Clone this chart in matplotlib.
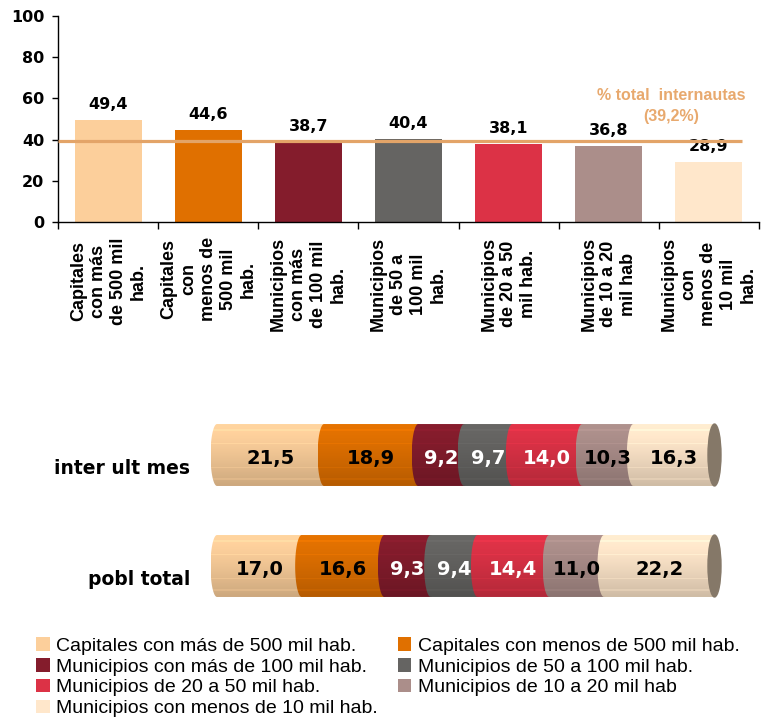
import numpy as np
import matplotlib.pyplot as plt
from matplotlib.patches import Polygon, Ellipse, Patch
from matplotlib.colors import to_rgb

# data
bar_labels = ["Capitales\ncon más\nde 500 mil\nhab.",
              "Capitales\ncon\nmenos de\n500 mil\nhab.",
              "Municipios\ncon más\nde 100 mil\nhab.",
              "Municipios\nde 50 a\n100 mil\nhab.",
              "Municipios\nde 20 a 50\nmil hab.",
              "Municipios\nde 10 a 20\nmil hab",
              "Municipios\ncon\nmenos de\n10 mil\nhab."]
pct_internautas = [49.4, 44.6, 38.7, 40.4, 38.1, 36.8, 28.9]
total_internautas = 39.2

row_labels = ["inter ult mes", "pobl total"]
share_inter = [21.5, 18.9, 9.2, 9.7, 14.0, 10.3, 16.3]
share_pobl = [17.0, 16.6, 9.3, 9.4, 14.4, 11.0, 22.2]

legend_labels = ["Capitales con más de 500 mil hab.",
                 "Capitales con menos de 500 mil hab.",
                 "Municipios con más de 100 mil hab.",
                 "Municipios de 50 a 100 mil hab.",
                 "Municipios de 20 a 50 mil hab.",
                 "Municipios de 10 a 20 mil hab",
                 "Municipios con menos de 10 mil hab."]

colors = ['#FCCF9B', '#E07000', '#841C2C', '#656462', '#DC3246', '#AB8E8A', '#FFE7CB']
txt_colors = ['black', 'black', 'white', 'white', 'white', 'black', 'black']
line_color = '#E3A468'


def fmt(v):
    return f"{v:.1f}".replace('.', ',')


fig = plt.figure(figsize=(7.71, 7.19), dpi=100)
W, H = 771, 719

# top bar chart
ax = fig.add_axes([58 / W, 1 - 222 / H, 701 / W, 206 / H])
x = np.arange(len(pct_internautas))
bw = 0.67
ax.bar(x, pct_internautas, width=bw, color=colors, zorder=2)
for xi, v in zip(x, pct_internautas):
    ax.annotate(fmt(v), (xi, v), xytext=(0, 8), textcoords='offset pixels',
                ha='center', va='bottom', fontsize=11.5, fontweight='bold',
                family='DejaVu Sans')
ax.hlines(total_internautas, -0.5, x[-1] + bw / 2, color=line_color, lw=2.3, zorder=3)
ax.text(5.62, 56.5, f"% total  internautas\n({fmt(total_internautas)}%)",
        ha='center', va='center', color='#E8A96E', fontsize=11.5,
        fontweight='bold', family='Liberation Sans', linespacing=1.5)

ax.set_xlim(-0.5, len(x) - 0.5)
ax.set_ylim(0, 100)
ax.set_yticks(np.arange(0, 101, 20))
ax.tick_params(axis='y', length=4, width=1, pad=6, labelsize=11.5)
for t in ax.get_yticklabels():
    t.set_fontweight('bold')
    t.set_family('DejaVu Sans')
ax.set_xticks(np.arange(-0.5, len(x), 1.0))
ax.set_xticklabels([])
ax.tick_params(axis='x', which='major', length=5, width=1)
ax.set_xticks(x, minor=True)
ax.set_xticklabels(bar_labels, minor=True, rotation=90, fontsize=13,
                   fontweight='bold', family='Liberation Sans',
                   ha='center', va='top', multialignment='center', linespacing=1.22)
ax.tick_params(axis='x', which='minor', length=0, pad=11)
for s in ['top', 'right']:
    ax.spines[s].set_visible(False)
for s in ['left', 'bottom']:
    ax.spines[s].set_color('black')
    ax.spines[s].set_linewidth(1)

# cylinders
px_unit = 4.98
ax2 = fig.add_axes([205 / W, 1 - 610 / H, 525 / W, 200 / H])
RX = 6.5 / px_unit
RY = 0.279
th = np.linspace(-np.pi / 2, np.pi / 2, 50)

nrow = 62
t = np.linspace(0, 1, nrow)
shade = 1.03 - 0.22 * t ** 1.3
for a, b in [(0.08, 0.11), (0.30, 0.32), (0.70, 0.72), (0.88, 0.91)]:
    shade[(t > a) & (t < b)] += 0.05


def cylinder(yc, shares, label):
    edges = np.concatenate([[0], np.cumsum(shares)])
    for i, v in enumerate(shares):
        x0, x1 = edges[i], edges[i + 1]
        left = np.column_stack([x0 - RX * np.cos(th), yc + RY * np.sin(th)])
        right = np.column_stack([x1 + RX * np.cos(th[::-1]), yc + RY * np.sin(th[::-1])])
        poly = Polygon(np.vstack([left, right]), closed=True, fc='none', ec='none')
        ax2.add_patch(poly)
        base = np.array(to_rgb(colors[i]))
        img = np.clip(shade[:, None, None] * base[None, None, :], 0, 1)
        img = np.repeat(img, 2, axis=1)
        im = ax2.imshow(img, extent=[x0 - RX, x1 + RX, yc - RY, yc + RY],
                        aspect='auto', interpolation='nearest', zorder=2 + i * 0.01)
        im.set_clip_path(poly)
        ax2.text((x0 + x1) / 2, yc - 0.035, fmt(v), ha='center', va='center',
                 color=txt_colors[i], fontsize=14, fontweight='bold',
                 family='DejaVu Sans', zorder=4)
    ax2.add_patch(Ellipse((edges[-1], yc), 2 * RX, 2 * RY, color='#857868', zorder=3))
    ax2.text(-5.4, yc - 0.125, label, ha='right', va='center', fontsize=13.5,
             fontweight='bold', family='DejaVu Sans')


cylinder(1, share_inter, row_labels[0])
cylinder(0, share_pobl, row_labels[1])
ax2.set_xlim(-12 / px_unit, 513 / px_unit)
ax2.set_ylim(-44 / 111, 1 + 45 / 111)
ax2.axis('off')

# legend (row-wise order)
handles = [Patch(facecolor=c, edgecolor='none') for c in colors]
order = [0, 2, 4, 6, 1, 3, 5]
fig.legend([handles[i] for i in order], [legend_labels[i] for i in order],
           ncol=2, loc='upper left', bbox_to_anchor=(36 / W, 1 - 637 / H),
           frameon=False, prop={'family': 'Liberation Sans', 'size': 14},
           handlelength=0.7, handleheight=0.7, handletextpad=0.35,
           columnspacing=1.0, labelspacing=0.17, borderpad=0, borderaxespad=0)

fig.savefig('out.png', dpi=100)
